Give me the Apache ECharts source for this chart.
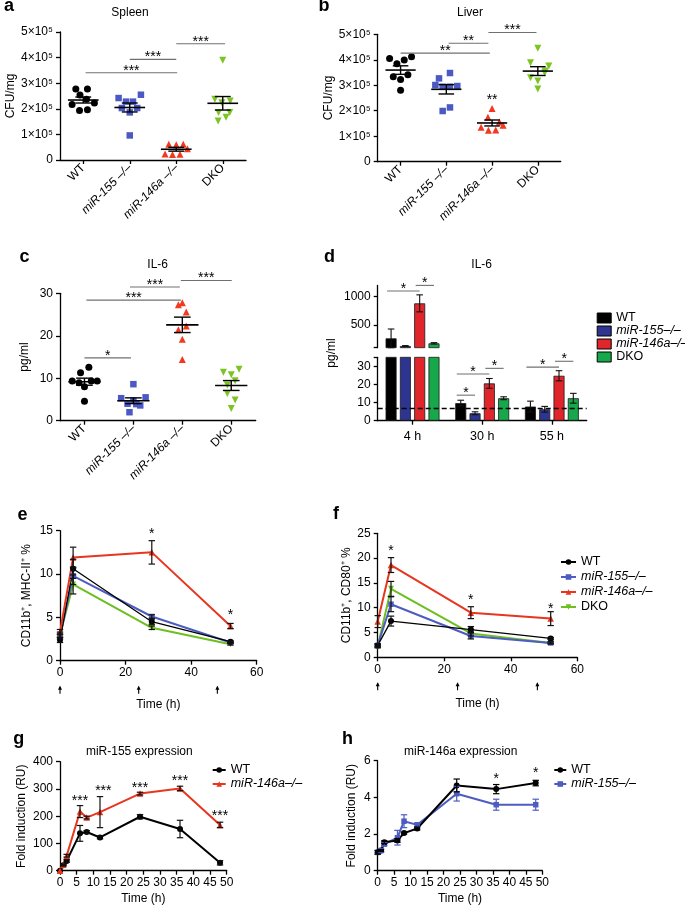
<!DOCTYPE html>
<html>
<head>
<meta charset="utf-8">
<script src="https://cdn.jsdelivr.net/npm/echarts@6.0.0/dist/echarts.min.js"></script>
<style>
html,body{margin:0;padding:0;background:#fff;}
#chart{width:685px;height:908px;}
</style>
</head>
<body>
<div id="chart"></div>
<script>
const FONT = '"Liberation Sans", Arial, Helvetica, sans-serif';

// ================= DATA =================
const groupNames = ['WT', 'miR-155 –/–', 'miR-146a –/–', 'DKO'];

// a: Spleen, CFU/mg (units of 10^5); jitter = horizontal spread within a group (category units)
const aWT   = [2.77, 2.77, 2.54, 2.37, 2.17, 2.23, 1.93, 1.96];
const aWTj  = [-0.16, 0.09, -0.07, 0.07, -0.24, 0.24, -0.08, 0.09];
const a155  = [2.42, 2.55, 2.28, 2.28, 2.03, 2.03, 1.86, 0.96];
const a155j = [-0.24, 0.24, -0.08, 0.07, -0.17, 0.16, 0, 0];
const a146  = [0.62, 0.60, 0.62, 0.44, 0.23, 0.21, 0.22];
const a146j = [-0.16, 0, 0.15, 0.24, -0.24, -0.08, 0.08];
const aDKO  = [3.9, 2.37, 2.30, 1.86, 1.86, 1.67, 1.52, 2.24];
const aDKOj = [0, -0.17, 0.16, -0.09, 0.15, 0.07, -0.1, -0.02];
const aBrackets = [[1.05, 3.02, 3.41, '***'], [2, 3, 3.93, '***'], [3, 4.05, 4.54, '***']];

// b: Liver, CFU/mg (units of 10^5)
const bWT   = [4.05, 4.12, 3.99, 3.84, 3.41, 3.33, 3.23, 2.80];
const bWTj  = [-0.24, 0.24, 0.08, -0.08, 0.16, -0.16, 0, 0];
const b155  = [3.27, 3.48, 3.01, 2.94, 2.94, 2.97, 1.99, 2.13];
const b155j = [-0.16, 0.08, -0.24, -0.08, 0.08, 0.24, -0.08, 0.08];
const b146  = [2.09, 1.74, 1.56, 1.43, 1.35, 1.23, 1.24];
const b146j = [0, -0.09, 0.16, 0.24, -0.24, -0.08, 0.08];
const bDKO  = [4.45, 3.88, 3.76, 3.49, 3.29, 3.17, 2.85, 3.56];
const bDKOj = [0, -0.16, 0.24, 0.15, -0.16, 0, 0, 0.16];
const bBrackets = [[1, 2.95, 4.26, '**'], [2.05, 2.92, 4.65, '**'], [2.92, 3.97, 5.07, '***'], [3, 3, 2.5, '**']];

const cfuTicks = [0, 1, 2, 3, 4, 5];
const cfuTickLabels = ['0', '1×10⁵', '2×10⁵', '3×10⁵', '4×10⁵', '5×10⁵'];

// c: IL-6 pg/ml
const cWT   = [12.6, 11.3, 9.35, 8.95, 9.35, 9.35, 8.0, 4.57];
const cWTj  = [0.09, -0.08, -0.25, -0.11, 0.14, 0.26, 0, 0];
const c155  = [8.6, 5.3, 5.5, 4.7, 4.0, 3.9, 3.6, 2.0];
const c155j = [0, -0.25, 0.25, 0, -0.12, 0.06, 0.14, -0.08];
const c146  = [27.3, 27.8, 25.6, 21.4, 22.3, 19.2, 14.4];
const c146j = [-0.08, 0, 0.08, -0.08, 0.08, 0, 0];
const cDKO  = [11.4, 10.8, 12.1, 8.4, 9.4, 6.4, 4.9, 2.9];
const cDKOj = [-0.16, 0, 0.16, -0.08, 0.08, -0.08, 0.08, 0];
const cBrackets = [[1, 1.95, 14.8, '*'], [1.04, 2.97, 28.4, '***'], [1.93, 2.95, 31.5, '***'], [2.97, 4.01, 33, '***']];

// d: IL-6 bars (pg/ml)
const dCats = ['4 h', '30 h', '55 h'];
const dWT  = [265, 9.7, 7.8],  dWTe  = [165, 1.6, 3.0];
const d155 = [129, 4.1, 6.3],  d155e = [8, 0.8, 1.6];
const d146 = [883, 20.6, 24.8], d146e = [150, 2.7, 2.8];
const dDKO = [177, 12.4, 12.4], dDKOe = [12, 0.8, 2.7];
const dLimit = 6.9;
const dUpperTicks = [500, 1000];
const dLowerTicks = [0, 10, 20, 30];
// [category, barA, barB, y, label]
const dBrackets = [[0, 0, 2, 1100, '*'], [0, 2, 3, 1200, '*'], [1, 0, 2, 25.8, '*'], [1, 0, 1, 14.1, '*'],
                   [1, 2, 3, 28.9, '*'], [2, 0, 2, 29.6, '*'], [2, 2, 3, 32.8, '*']];

// e: CD11b+, MHC-II+ %
const eT = [0, 4, 28, 52];
const eWT  = [2.4, 10.6, 4.5, 2.2],  eWTe  = [0.3, 1.1, 0.3, 0.1];
const e155 = [2.8, 9.8, 5.1, 2.1],   e155e = [0.3, 1.0, 0.2, 0.1];
const e146 = [3.3, 11.9, 12.5, 4.0], e146e = [0.3, 1.2, 1.35, 0.3];
const eDKO = [3.0, 8.8, 3.8, 1.9],   eDKOe = [0.3, 1.1, 0.2, 0.1];
const eStars = [[28, 14.9, '*'], [52, 5.5, '*']];
const injections = [0, 24, 48];

// f: CD11b+, CD80+ %
const fT = [0, 4, 28, 52];
const fWT  = [2.4, 7.3, 5.6, 3.8],   fWTe  = [0.3, 1.0, 0.6, 0.2];
const f155 = [2.4, 10.7, 4.3, 2.9],  f155e = [0.3, 1.5, 0.6, 0.2];
const f146 = [7.2, 18.6, 9.0, 7.8],  f146e = [1.2, 1.5, 1.2, 1.4];
const fDKO = [2.2, 13.8, 4.8, 2.9],  fDKOe = [0.3, 1.5, 0.5, 0.2];
const fStars = [[4, 22, '*'], [28, 12.1, '*'], [52, 10.3, '*']];

// g: miR-155 expression
const gT = [0, 1, 2, 6, 8, 12, 24, 36, 48];
const gWT  = [0, 20, 36, 137, 142, 122, 198, 153, 29],  gWTe  = [0, 3, 5, 29, 5, 5, 8, 32, 8];
const g146 = [0, 22, 55, 217, 195, 215, 283, 302, 168], g146e = [0, 3, 5, 22, 5, 57, 5, 8, 10];
const gStars = [[6, 266, '***'], [13, 302, '***'], [24, 311, '***'], [36, 337, '***'], [48, 211, '***']];

// h: miR-146a expression
const hT = [0, 1, 2, 6, 8, 12, 24, 36, 48];
const hWT  = [1.0, 1.1, 1.55, 1.65, 2.05, 2.3, 4.65, 4.45, 4.78], hWTe  = [0.1, 0.05, 0.08, 0.1, 0.05, 0.08, 0.35, 0.25, 0.15];
const h155 = [1.0, 1.1, 1.45, 1.8, 2.7, 2.5, 4.2, 3.6, 3.6],      h155e = [0.1, 0.1, 0.08, 0.4, 0.35, 0.1, 0.4, 0.3, 0.3];
const hStars = [[36, 5.13, '*'], [48, 5.45, '*']];

// ================= STYLE =================
const COL = {
  dot:  {wt: '#000000', m155: '#4b59c2', m146: '#f2381f', dko: '#7cc422'},
  bar:  {wt: '#000000', m155: '#2d3590', m146: '#e1262b', dko: '#16a84a'},
  line: {wt: '#000000', m155: '#4d5cc0', m146: '#e8351e', dko: '#6dbf1f'}
};
const AXL = {show: true, lineStyle: {color: '#000', width: 1.3}};
const TK = {show: true, length: 4, lineStyle: {color: '#000', width: 1.3}};
const LB = {color: '#000', fontSize: 12, fontFamily: FONT};
const NM = {color: '#000', fontSize: 12, fontFamily: FONT};
const BW = 11, BG = 3.3;

const grids = [], xAxes = [], yAxes = [], series = [], legends = [], graphics = [];
function addGrid(r) { grids.push({left: r[0], top: r[1], width: r[2], height: r[3]}); return grids.length - 1; }
function addX(o) { xAxes.push(o); return xAxes.length - 1; }
function addY(o) { yAxes.push(o); return yAxes.length - 1; }

function meanSem(a) {
  const n = a.length, m = a.reduce((s, v) => s + v, 0) / n;
  const sd = Math.sqrt(a.reduce((s, v) => s + (v - m) * (v - m), 0) / (n - 1));
  return [m, sd / Math.sqrt(n)];
}
function L(x1, y1, x2, y2, c, w) { return {type: 'line', shape: {x1, y1, x2, y2}, style: {stroke: c, lineWidth: w}}; }
function T(x, y, text, size) {
  return {type: 'text', x: x, y: y, style: {text: text, fill: '#000', fontSize: size || 14, fontFamily: FONT,
    align: 'center', verticalAlign: 'middle', textAlign: 'center', textVerticalAlign: 'middle'}};
}

function renderSummary(params, api) {
  const g = api.value(0), m = api.value(1), s = api.value(2);
  const c = api.coord([g, m]), t = api.coord([g, m + s]), b = api.coord([g, m - s]);
  const u = api.size([1, 0])[0];
  return {type: 'group', children: [
    L(c[0] - 0.33 * u, c[1], c[0] + 0.33 * u, c[1], '#000', 1.6),
    L(t[0], t[1], b[0], b[1], '#000', 1.4),
    L(t[0] - 0.17 * u, t[1], t[0] + 0.17 * u, t[1], '#000', 1.4),
    L(b[0] - 0.17 * u, b[1], b[0] + 0.17 * u, b[1], '#000', 1.4)
  ]};
}
function bracketRenderer(list, color) {
  return function (params, api) {
    const br = list[params.dataIndex];
    const p1 = api.coord([br[0], br[2]]), p2 = api.coord([br[1], br[2]]);
    const ch = [];
    if (br[0] !== br[1]) {
      ch.push(L(p1[0], p1[1], p2[0], p2[1], color, 1.1));
      ch.push(T((p1[0] + p2[0]) / 2, p1[1] - 2, br[3]));
    } else {
      ch.push(T(p1[0], p1[1] + 2.5, br[3]));
    }
    return {type: 'group', children: ch};
  };
}
function starRenderer(list) {
  return function (params, api) {
    const s = list[params.dataIndex];
    const p = api.coord([s[0], s[1]]);
    return T(p[0], p[1] + 2.5, s[2]);
  };
}
function errRenderer(color) {
  return function (params, api) {
    const x = api.value(0), v = api.value(1), e = api.value(2);
    if (!e) return {type: 'group', children: []};
    const t = api.coord([x, v + e]), b = api.coord([x, v - e]);
    return {type: 'group', children: [
      L(t[0], t[1], b[0], b[1], color, 1.2),
      L(t[0] - 3.2, t[1], t[0] + 3.2, t[1], color, 1.2),
      L(b[0] - 3.2, b[1], b[0] + 3.2, b[1], color, 1.2)
    ]};
  };
}
function barOffset(i) { return -(4 * BW + 3 * BG) / 2 + BW / 2 + i * (BW + BG); }

function valueY(gi, cfg) {
  return addY({type: 'value', gridIndex: gi, min: cfg.min, max: cfg.max, interval: cfg.interval,
    axisLine: AXL, axisTick: TK, splitLine: {show: false},
    axisLabel: Object.assign({}, LB, {margin: cfg.margin || 7, formatter: cfg.fmt || (v => String(v))}),
    name: cfg.name, nameLocation: 'middle', nameGap: cfg.gap, nameRotate: 90,
    nameTextStyle: Object.assign({}, NM, {fontSize: cfg.nameSize || 12})});
}

function dotPanel(rect, ycfg, sets, brackets) {
  const gi = addGrid(rect);
  addX({type: 'category', gridIndex: gi,
    data: groupNames.map(n => ({value: n, textStyle: {fontStyle: n.indexOf('miR') === 0 ? 'italic' : 'normal'}})),
    axisLine: AXL, axisTick: Object.assign({}, TK, {alignWithLabel: true}),
    axisLabel: Object.assign({}, LB, {rotate: 45, margin: 6, interval: 0}), splitLine: {show: false}});
  const xv = addX({type: 'value', gridIndex: gi, min: 0.5, max: 4.5, show: false, splitLine: {show: false}});
  const yi = valueY(gi, ycfg);
  sets.forEach((s, k) => series.push({type: 'scatter', xAxisIndex: xv, yAxisIndex: yi, symbol: s.symbol,
    symbolSize: s.size, symbolRotate: s.rot || 0, itemStyle: {color: s.color, opacity: 1}, silent: true, z: 2,
    data: s.vals.map((v, i) => [k + 1 + s.jit[i], v])}));
  series.push({type: 'custom', xAxisIndex: xv, yAxisIndex: yi, renderItem: renderSummary, encode: {x: 0, y: 1},
    data: sets.map((s, k) => [k + 1].concat(meanSem(s.vals))), z: 3, silent: true});
  series.push({type: 'custom', xAxisIndex: xv, yAxisIndex: yi, renderItem: bracketRenderer(brackets, '#707070'),
    encode: {x: [0, 1], y: 2}, data: brackets.map(b => [b[0], b[1], b[2]]), z: 4, silent: true, clip: false});
}
function dotSets(w, wj, m1, m1j, m2, m2j, k, kj) {
  return [
    {vals: w, jit: wj, symbol: 'circle', size: 7, color: COL.dot.wt},
    {vals: m1, jit: m1j, symbol: 'rect', size: 6.5, color: COL.dot.m155},
    {vals: m2, jit: m2j, symbol: 'triangle', size: 7, color: COL.dot.m146},
    {vals: k, jit: kj, symbol: 'triangle', rot: 180, size: 7, color: COL.dot.dko}
  ];
}
const cfuFmt = v => { const i = cfuTicks.indexOf(v); return i >= 0 ? cfuTickLabels[i] : ''; };

// ---- a ----
dotPanel([60, 32, 186, 128], {min: 0, max: 5, interval: 1, fmt: cfuFmt, name: 'CFU/mg', gap: 41},
  dotSets(aWT, aWTj, a155, a155j, a146, a146j, aDKO, aDKOj), aBrackets);
// ---- b ----
dotPanel([377.7, 34.3, 183, 127.4], {min: 0, max: 5, interval: 1, fmt: cfuFmt, name: 'CFU/mg', gap: 42},
  dotSets(bWT, bWTj, b155, b155j, b146, b146j, bDKO, bDKOj), bBrackets);
// ---- c ----
dotPanel([60, 293.3, 195.7, 127.4], {min: 0, max: 30, interval: 10, name: 'pg/ml', gap: 29},
  dotSets(cWT, cWTj, c155, c155j, c146, c146j, cDKO, cDKOj), cBrackets);

// ---- d (broken axis: two grids) ----
const gU = addGrid([377.7, 285.4, 209, 62.3]);
const gL = addGrid([377.7, 357.3, 209, 63.4]);
const xU = addX({type: 'category', gridIndex: gU, data: dCats, show: false});
const xL = addX({type: 'category', gridIndex: gL, data: dCats, axisLine: AXL,
  axisTick: Object.assign({}, TK, {alignWithLabel: true}), axisLabel: Object.assign({}, LB, {fontSize: 12.5, margin: 9})});
const yU = addY({type: 'value', gridIndex: gU, min: 100, max: 1200, axisLine: AXL,
  axisTick: Object.assign({}, TK, {customValues: [100].concat(dUpperTicks)}),
  axisLabel: Object.assign({}, LB, {margin: 7, customValues: dUpperTicks, formatter: v => String(v)}), splitLine: {show: false}});
const yL = addY({type: 'value', gridIndex: gL, min: 0, max: 35, interval: 10, axisLine: AXL,
  axisTick: Object.assign({}, TK, {customValues: dLowerTicks.concat([35])}),
  axisLabel: Object.assign({}, LB, {margin: 7, customValues: dLowerTicks, formatter: v => String(v)}), splitLine: {show: false}});
const dSets = [
  {name: 'dWT', v: dWT, e: dWTe, color: COL.bar.wt},
  {name: 'd155', v: d155, e: d155e, color: COL.bar.m155},
  {name: 'd146', v: d146, e: d146e, color: COL.bar.m146},
  {name: 'dDKO', v: dDKO, e: dDKOe, color: COL.bar.dko}
];
dSets.forEach(s => {
  const st = {color: s.color, borderColor: '#1a1a1a', borderWidth: 0.8};
  series.push({type: 'bar', name: s.name, xAxisIndex: xL, yAxisIndex: yL, data: s.v, barWidth: BW, barGap: '30%', itemStyle: st, silent: true, z: 2});
  series.push({type: 'bar', name: s.name, xAxisIndex: xU, yAxisIndex: yU, data: s.v.map(v => v > 35 ? v : '-'), barWidth: BW, barGap: '30%', itemStyle: st, silent: true, z: 2});
});
const dErrAll = [];
dSets.forEach((s, i) => s.v.forEach((v, c) => dErrAll.push([c, i, v, s.e[c]])));
function dErrRenderer(list) {
  return function (params, api) {
    const d = list[params.dataIndex];
    const t = api.coord([d[0], d[2] + d[3]]), b = api.coord([d[0], d[2] - d[3]]);
    const x = t[0] + barOffset(d[1]);
    return {type: 'group', children: [L(x, t[1], x, b[1], '#111', 1.1), L(x - 3.3, t[1], x + 3.3, t[1], '#111', 1.1), L(x - 3.3, b[1], x + 3.3, b[1], '#111', 1.1)]};
  };
}
const dErrU = dErrAll.filter(d => d[2] > 35), dErrL = dErrAll.filter(d => d[2] <= 35);
series.push({type: 'custom', xAxisIndex: xU, yAxisIndex: yU, renderItem: dErrRenderer(dErrU), encode: {x: 0, y: 2}, data: dErrU.map(d => [d[0], d[1], d[2]]), z: 4, silent: true});
series.push({type: 'custom', xAxisIndex: xL, yAxisIndex: yL, renderItem: dErrRenderer(dErrL), encode: {x: 0, y: 2}, data: dErrL.map(d => [d[0], d[1], d[2]]), z: 4, silent: true});
function dBracketRenderer(list) {
  return function (params, api) {
    const b = list[params.dataIndex];
    const p = api.coord([b[0], b[3]]);
    const x1 = p[0] + barOffset(b[1]) - 4, x2 = p[0] + barOffset(b[2]);
    return {type: 'group', children: [L(x1, p[1], x2, p[1], '#707070', 1.1), T((x1 + x2) / 2, p[1] - 2, b[4])]};
  };
}
const dBrU = dBrackets.filter(b => b[3] > 35), dBrL = dBrackets.filter(b => b[3] <= 35);
series.push({type: 'custom', xAxisIndex: xU, yAxisIndex: yU, renderItem: dBracketRenderer(dBrU), encode: {x: 0, y: 3}, data: dBrU.map(b => [b[0], b[1], b[2], b[3]]), z: 5, silent: true, clip: false});
series.push({type: 'custom', xAxisIndex: xL, yAxisIndex: yL, renderItem: dBracketRenderer(dBrL), encode: {x: 0, y: 3}, data: dBrL.map(b => [b[0], b[1], b[2], b[3]]), z: 5, silent: true, clip: false});
series.push({type: 'line', xAxisIndex: xL, yAxisIndex: yL, data: [], silent: true, z: 6,
  markLine: {silent: true, symbol: 'none', label: {show: false}, animation: false,
    lineStyle: {type: [5, 3], color: '#000', width: 1.3}, data: [{yAxis: dLimit}]}});

// ---- line panels ----
function linePanel(rect, xcfg, ycfg, sets, errBySeries, stars, arrows) {
  const gi = addGrid(rect);
  const xi = addX({type: 'value', gridIndex: gi, min: xcfg.min, max: xcfg.max, interval: xcfg.interval,
    axisLine: AXL, axisTick: TK, splitLine: {show: false}, axisLabel: Object.assign({}, LB, {margin: 6}),
    name: xcfg.name, nameLocation: 'middle', nameGap: xcfg.gap, nameTextStyle: NM});
  const yi = valueY(gi, ycfg);
  sets.forEach(s => {
    series.push({type: 'line', name: s.name, xAxisIndex: xi, yAxisIndex: yi, data: s.t.map((t, i) => [t, s.v[i]]),
      symbol: s.symbol, symbolSize: s.size, symbolRotate: s.rot || 0, showSymbol: true,
      lineStyle: {color: s.color, width: s.lw}, itemStyle: {color: s.color}, silent: true, z: 2});
    series.push({type: 'custom', xAxisIndex: xi, yAxisIndex: yi, renderItem: errRenderer(errBySeries ? s.color : '#111'),
      encode: {x: 0, y: 1}, data: s.t.map((t, i) => [t, s.v[i], s.e[i]]), silent: true, z: 3});
  });
  series.push({type: 'custom', xAxisIndex: xi, yAxisIndex: yi, renderItem: starRenderer(stars), encode: {x: 0, y: 1},
    data: stars.map(s => [s[0], s[1]]), silent: true, z: 5, clip: false});
  if (arrows) {
    series.push({type: 'custom', xAxisIndex: xi, yAxisIndex: yi, encode: {x: 0, y: 1}, data: arrows.map(a => [a, ycfg.min]),
      silent: true, clip: false, z: 5,
      renderItem: function (params, api) {
        const p = api.coord([api.value(0), api.value(1)]);
        return {type: 'group', children: [
          L(p[0], p[1] + 26, p[0], p[1] + 33, '#000', 1.1),
          {type: 'polygon', shape: {points: [[p[0] - 2, p[1] + 29], [p[0], p[1] + 25], [p[0] + 2, p[1] + 29]]}, style: {fill: '#000'}}
        ]};
      }});
  }
}
function lineSets(prefix, t, w, we, m1, m1e, m2, m2e, k, ke, wLw) {
  const out = [];
  if (k) out.push({name: prefix + 'DKO', t, v: k, e: ke, color: COL.line.dko, symbol: 'triangle', rot: 180, size: 6, lw: 2});
  if (m1) out.push({name: prefix + '155', t, v: m1, e: m1e, color: COL.line.m155, symbol: 'rect', size: 5.5, lw: 2});
  if (w) out.push({name: prefix + 'WT', t, v: w, e: we, color: COL.line.wt, symbol: 'circle', size: 6, lw: wLw});
  if (m2) out.push({name: prefix + '146', t, v: m2, e: m2e, color: COL.line.m146, symbol: 'triangle', size: 6.5, lw: 2});
  return out;
}
// ---- e ----
linePanel([60, 530.7, 196.7, 130], {min: 0, max: 60, interval: 20, name: 'Time (h)', gap: 38},
  {min: 0, max: 15, interval: 5, name: 'CD11b⁺, MHC-II⁺ %', gap: 27},
  lineSets('e', eT, eWT, eWTe, e155, e155e, e146, e146e, eDKO, eDKOe, 1.3), false, eStars, injections);
// ---- f ----
linePanel([377.7, 533.3, 199.6, 124], {min: 0, max: 60, interval: 20, name: 'Time (h)', gap: 40},
  {min: 0, max: 25, interval: 5, name: 'CD11b⁺, CD80⁺ %', gap: 25},
  lineSets('f', fT, fWT, fWTe, f155, f155e, f146, f146e, fDKO, fDKOe, 1.3), false, fStars, injections);
// ---- g ----
linePanel([60, 761.7, 166.7, 109], {min: 0, max: 50, interval: 5, name: 'Time (h)', gap: 22},
  {min: 0, max: 400, interval: 100, name: 'Fold induction (RU)', gap: 32},
  lineSets('g', gT, gWT, gWTe, null, null, g146, g146e, null, null, 2), false, gStars, null);
// ---- h ----
linePanel([377.7, 760.7, 164.6, 110], {min: 0, max: 50, interval: 5, name: 'Time (h)', gap: 22},
  {min: 0, max: 6, interval: 2, name: 'Fold induction (RU)', gap: 20},
  lineSets('h', hT, hWT, hWTe, h155, h155e, null, null, null, null, 2), true, hStars, null);

// ---- legends ----
const legendText = {
  dWT: 'WT', d155: '{i|miR-155–/–}', d146: '{i|miR-146a–/–}', dDKO: 'DKO',
  fWT: 'WT', f155: '{i|miR-155–/–}', f146: '{i|miR-146a–/–}', fDKO: 'DKO',
  gWT: 'WT', g146: '{i|miR-146a–/–}', hWT: 'WT', h155: '{i|miR-155–/–}'
};
const legText = {color: '#000', fontSize: 12.5, fontFamily: FONT, rich: {i: {fontStyle: 'italic', fontSize: 12.5, fontFamily: FONT, color: '#000'}}};
function addLegend(names, left, top, o) {
  legends.push(Object.assign({orient: 'vertical', left: left, top: top, padding: 0, selectedMode: false,
    data: names, formatter: n => legendText[n], textStyle: legText}, o));
}
addLegend(['dWT', 'd155', 'd146', 'dDKO'], 596.7, 311.5, {icon: 'rect', itemWidth: 14, itemHeight: 10, itemGap: 0,
  itemStyle: {borderColor: '#000', borderWidth: 1}});
addLegend(['fWT', 'f155', 'f146', 'fDKO'], 560, 555.5, {itemWidth: 15, itemHeight: 7, itemGap: 2});
addLegend(['gWT', 'g146'], 211.7, 763.5, {itemWidth: 13, itemHeight: 7, itemGap: 1});
addLegend(['hWT', 'h155'], 553.3, 763.5, {itemWidth: 12, itemHeight: 7, itemGap: 1});

// ---- panel letters, titles, d axis name ----
const letters = [['a', 9, 8], ['b', 324, 8], ['c', 24.5, 258.5], ['d', 329.5, 258.5], ['e', 22.5, 516.8], ['f', 336, 516], ['g', 18.7, 741], ['h', 347.5, 741]];
letters.forEach(l => graphics.push({type: 'text', x: l[1], y: l[2] - 1.6, style: {text: l[0], fill: '#000', fontSize: 18, fontWeight: 'bold', fontFamily: FONT,
  align: 'center', verticalAlign: 'middle', textAlign: 'center', textVerticalAlign: 'middle'}}));
const titles = [['Spleen', 130, 13], ['Liver', 470, 13], ['IL-6', 157.7, 264.3], ['IL-6', 481.7, 264.3], ['miR-155 expression', 139.3, 751.7], ['miR-146a expression', 460.7, 751.7]];
titles.forEach(t => graphics.push({type: 'text', x: t[1], y: t[2], style: {text: t[0], fill: '#000', fontSize: 12, fontFamily: FONT,
  align: 'center', verticalAlign: 'middle', textAlign: 'center', textVerticalAlign: 'middle'}}));
graphics.push({type: 'text', x: 331.7, y: 353, rotation: Math.PI / 2, style: {text: 'pg/ml', fill: '#000', fontSize: 12, fontFamily: FONT,
  align: 'center', verticalAlign: 'middle', textAlign: 'center', textVerticalAlign: 'middle'}});

const chart = echarts.init(document.getElementById('chart'), null, {renderer: 'canvas', width: 685, height: 908});
chart.setOption({
  animation: false,
  backgroundColor: '#ffffff',
  textStyle: {fontFamily: FONT},
  grid: grids, xAxis: xAxes, yAxis: yAxes, series: series, legend: legends, graphic: graphics
});
</script>
</body>
</html>
